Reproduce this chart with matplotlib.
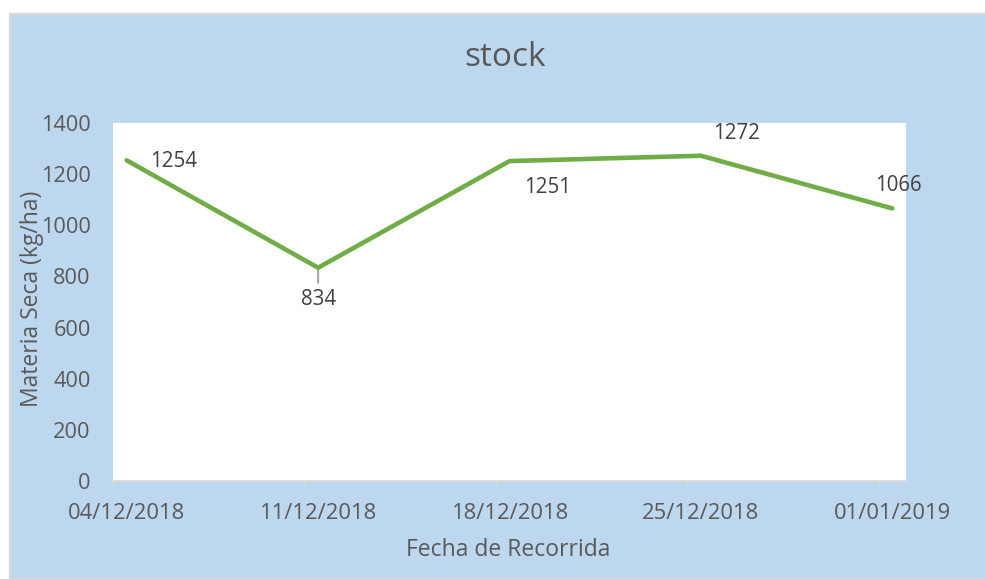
import matplotlib
matplotlib.use("Agg")
import matplotlib.pyplot as plt
import matplotlib.patches as mpatches
import pandas as pd

# datos del recorrido
fechas = ["04/12/2018", "11/12/2018", "18/12/2018", "25/12/2018", "01/01/2019"]
stock = [1254, 834, 1251, 1272, 1066]
# desplazamiento de cada etiqueta (px) respecto a su punto
label_offsets = [(47, -1), (0, -32), (38, -26), (36, 22), (6, 23)]

BLUE = "#BDD7EE"
GREEN = "#70AD47"
GRAY_TXT = "#595959"
FONT = ["Open Sans", "DejaVu Sans"]

plt.rcParams["font.family"] = FONT

dias = pd.to_datetime(fechas, dayfirst=True)
# eje de fechas estilo Excel: cada punto en el centro de su dia
centros = dias + pd.Timedelta(hours=12)

fig = plt.figure(figsize=(9.85, 5.79), dpi=100)
fig.patch.set_facecolor("white")

# fondo azul con borde gris
bg = mpatches.Rectangle((9.5 / 985, 0), 1, 1 - 13.5 / 579, transform=fig.transFigure,
                        facecolor=BLUE, edgecolor="#D9D9D9", linewidth=1.6, zorder=-10)
fig.patches.append(bg)

ax = fig.add_axes([113 / 985, 1 - 481 / 579, (906 - 113) / 985, (481 - 123) / 579])
ax.set_facecolor("white")

ax.plot(centros, stock, color=GREEN, linewidth=3.3, solid_capstyle="round",
        solid_joinstyle="miter", zorder=3)

for x, v, (dx, dy) in zip(centros, stock, label_offsets):
    ax.annotate(str(v), xy=(x, v), xytext=(dx, dy), textcoords="offset pixels",
                ha="center", va="center", fontsize=14.8, color="#404040")
    if dx == 0:
        # linea guia gris bajo el punto
        ax.annotate("", xy=(x, v), xytext=(0, -15), textcoords="offset pixels",
                    arrowprops=dict(arrowstyle="-", color="#A6A6A6", lw=1.5,
                                    shrinkA=0, shrinkB=0), zorder=2)

ax.set_ylim(0, 1400)
ax.set_yticks(range(0, 1401, 200))
ax.set_xlim(dias[0], dias[-1] + pd.Timedelta(days=1))

# marcas en los limites de cada semana, etiquetas en el centro del dia
ax.set_xticks(dias)
ax.set_xticklabels([])
ax.set_xticks(centros, minor=True)
ax.set_xticklabels(fechas, minor=True)
ax.tick_params(axis="x", which="major", length=6, width=1, color="#D9D9D9")
ax.tick_params(axis="x", which="minor", length=0, pad=16, labelsize=15.8, labelcolor=GRAY_TXT)
ax.tick_params(axis="y", length=0, pad=16, labelsize=15.7, labelcolor=GRAY_TXT)

for s in ["top", "right", "left"]:
    ax.spines[s].set_visible(False)
ax.spines["bottom"].set_color("#D9D9D9")
ax.spines["bottom"].set_linewidth(1.2)

fig.text(505 / 985, 1 - 57 / 579, "stock", fontsize=24, color=GRAY_TXT, ha="center", va="center")
fig.text(508 / 985, 1 - 550 / 579, "Fecha de Recorrida", fontsize=16.5, color=GRAY_TXT,
         ha="center", va="center")
fig.text(32 / 985, 1 - 299 / 579, "Materia Seca (kg/ha)", fontsize=16.5, color=GRAY_TXT,
         ha="center", va="center", rotation=90)

fig.savefig("out.png", dpi=100)
